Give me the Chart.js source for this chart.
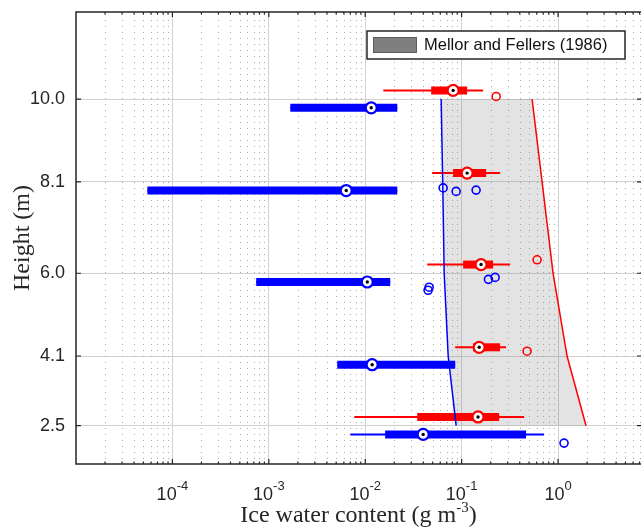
<!DOCTYPE html>
<html>
<head>
<meta charset="utf-8">
<script src="https://cdn.jsdelivr.net/npm/chart.js@4.4.1/dist/chart.umd.min.js"></script>
<style>
  html, body { margin: 0; padding: 0; background: #fff; overflow: hidden; }
  #chart { display: block; }
</style>
</head>
<body>
<canvas id="chart" width="641" height="527"></canvas>
<script>
// Heights (m) and their tick labels
var heights = [10.0, 8.1, 6.0, 4.1, 2.5];
var heightLabels = ['10.0', '8.1', '6.0', '4.1', '2.5'];
var xTickExponents = [-4, -3, -2, -1, 0];

// Red box plots (one per height): whisker low, q1, median, q3, whisker high (g m-3)
var redWhiskerLow  = [0.0154, 0.0494, 0.0439, 0.0857, 0.0077];
var redQ1          = [0.0483, 0.0816, 0.1037, 0.1315, 0.0346];
var redMedian      = [0.0816, 0.114,  0.159,  0.152,  0.148];
var redQ3          = [0.114,  0.1795, 0.212,  0.2505, 0.245];
var redWhiskerHigh = [0.167,  0.2506, 0.318,  0.289,  0.4446];

// Blue box plots
var blueWhiskerLow  = [0.00167, 0.000055, 0.00074, 0.00513, 0.0070];
var blueQ1          = [0.00167, 0.000055, 0.00074, 0.00513, 0.0161];
var blueMedian      = [0.01154, 0.00635,  0.0105,  0.0118,  0.0399];
var blueQ3          = [0.0215,  0.0215,   0.01816, 0.0857,  0.4659];
var blueWhiskerHigh = [0.0215,  0.0215,   0.01816, 0.0857,  0.716];

// Outliers
var redOutlierX = [0.228, 0.606, 0.477];
var redOutlierY = [10.06, 6.31, 4.21];
var blueOutlierX = [0.0643, 0.0877, 0.1413, 0.1896, 0.2223, 0.046, 0.0449, 1.154];
var blueOutlierY = [7.96, 7.88, 7.91, 5.86, 5.905, 5.68, 5.61, 2.10];

// Mellor and Fellers (1986) range, per height
var mellorLow  = [0.0613, 0.0636, 0.0659, 0.0725, 0.0877];
var mellorHigh = [0.538, 0.683, 0.888, 1.24, 1.95];

var RED = '#ff0000';
var BLUE = '#0000ff';
var AXIS = '#262626';
var BOX_OFFSET = 0.2;

function seg(x1, x2, y, color, width, order) {
    return {
        data: [{ x: x1, y: y }, { x: x2, y: y }],
        borderColor: color,
        borderWidth: width,
        borderCapStyle: 'butt',
        pointRadius: 0,
        fill: false,
        order: order
    };
}

var datasets = [];

// shaded range (polygon: low edge top->bottom, high edge bottom->top)
var shade = [];
heights.forEach(function(h, i) { shade.push({ x: mellorLow[i], y: h }); });
for (var i = heights.length - 1; i >= 0; i--) shade.push({ x: mellorHigh[i], y: heights[i] });
datasets.push({
    label: 'Mellor and Fellers (1986)',
    data: shade,
    backgroundColor: 'rgba(128,128,128,0.22)',
    borderWidth: 0,
    pointRadius: 0,
    fill: 'shape',
    order: 10
});

// range edges
datasets.push({
    data: heights.map(function(h, i) { return { x: mellorLow[i], y: h }; }),
    borderColor: BLUE, borderWidth: 1.5, pointRadius: 0, fill: false, order: 6
});
datasets.push({
    data: heights.map(function(h, i) { return { x: mellorHigh[i], y: h }; }),
    borderColor: RED, borderWidth: 1.5, pointRadius: 0, fill: false, order: 6
});

// box plots
heights.forEach(function(h, i) {
    var ry = h + BOX_OFFSET, by = h - BOX_OFFSET;
    datasets.push(seg(redWhiskerLow[i], redWhiskerHigh[i], ry, RED, 2, 8));
    datasets.push(seg(redQ1[i], redQ3[i], ry, RED, 8, 8));
    datasets.push(seg(blueWhiskerLow[i], blueWhiskerHigh[i], by, BLUE, 2, 8));
    datasets.push(seg(blueQ1[i], blueQ3[i], by, BLUE, 8, 8));
});

// outliers
datasets.push({
    data: redOutlierX.map(function(x, i) { return { x: x, y: redOutlierY[i] }; }),
    showLine: false, pointRadius: 4, borderWidth: 1.6,
    pointBorderColor: RED, pointBackgroundColor: 'rgba(0,0,0,0)', order: 5
});
datasets.push({
    data: blueOutlierX.map(function(x, i) { return { x: x, y: blueOutlierY[i] }; }),
    showLine: false, pointRadius: 4, borderWidth: 1.6,
    pointBorderColor: BLUE, pointBackgroundColor: 'rgba(0,0,0,0)', order: 5
});

// medians
var redMed = redMedian.map(function(x, i) { return { x: x, y: heights[i] + BOX_OFFSET }; });
var blueMed = blueMedian.map(function(x, i) { return { x: x, y: heights[i] - BOX_OFFSET }; });
datasets.push({ data: redMed, showLine: false, pointRadius: 5.5, borderWidth: 2.2,
    pointBorderColor: RED, pointBackgroundColor: '#fff', order: 3 });
datasets.push({ data: blueMed, showLine: false, pointRadius: 5.5, borderWidth: 2.2,
    pointBorderColor: BLUE, pointBackgroundColor: '#fff', order: 3 });
datasets.push({ data: redMed.concat(blueMed), showLine: false, pointRadius: 1.7, borderWidth: 0,
    pointBackgroundColor: '#000', order: 1 });

var X_MIN = 1e-5, X_MAX = 7.25;

function minorValues() {
    var vals = [];
    for (var e = -5; e <= 0; e++) {
        for (var m = 2; m <= 9; m++) {
            var v = m * Math.pow(10, e);
            if (v < X_MAX) vals.push(v);
        }
    }
    return vals;
}

var decorPlugin = {
    id: 'decor',
    beforeDatasetsDraw: function(chart) {
        var ctx = chart.ctx, a = chart.chartArea, xs = chart.scales.x;
        ctx.save();
        ctx.strokeStyle = '#a8a8a8';
        ctx.lineWidth = 1;
        ctx.setLineDash([1, 5]);
        minorValues().forEach(function(v) {
            var px = Math.round(xs.getPixelForValue(v)) + 0.5;
            ctx.beginPath();
            ctx.moveTo(px, a.top + 2);
            ctx.lineTo(px, a.bottom);
            ctx.stroke();
        });
        ctx.restore();
    },
    afterDraw: function(chart) {
        var ctx = chart.ctx, a = chart.chartArea, xs = chart.scales.x, ys = chart.scales.y;
        ctx.save();
        // frame
        ctx.strokeStyle = AXIS;
        ctx.lineWidth = 1.5;
        ctx.beginPath();
        ctx.moveTo(a.right, a.top);
        ctx.lineTo(a.left, a.top);
        ctx.lineTo(a.left, a.bottom);
        ctx.lineTo(a.right, a.bottom);
        ctx.stroke();
        // tick marks
        ctx.lineWidth = 1.2;
        ctx.beginPath();
        heights.forEach(function(h) {
            var py = ys.getPixelForValue(h);
            ctx.moveTo(a.left, py); ctx.lineTo(a.left + 5, py);
            ctx.moveTo(a.right, py); ctx.lineTo(a.right - 4, py);
        });
        xTickExponents.forEach(function(e) {
            var px = xs.getPixelForValue(Math.pow(10, e));
            ctx.moveTo(px, a.top); ctx.lineTo(px, a.top + 5);
            ctx.moveTo(px, a.bottom); ctx.lineTo(px, a.bottom - 5);
        });
        minorValues().forEach(function(v) {
            var px = xs.getPixelForValue(v);
            ctx.moveTo(px, a.top); ctx.lineTo(px, a.top + 2.5);
            ctx.moveTo(px, a.bottom); ctx.lineTo(px, a.bottom - 2.5);
        });
        ctx.stroke();

        // x tick labels 10^e
        ctx.fillStyle = AXIS;
        ctx.textBaseline = 'alphabetic';
        ctx.textAlign = 'left';
        xTickExponents.forEach(function(e) {
            var px = xs.getPixelForValue(Math.pow(10, e));
            ctx.font = '18px "Liberation Sans", Arial, sans-serif';
            var w1 = ctx.measureText('10').width;
            ctx.font = '13px "Liberation Sans", Arial, sans-serif';
            var w2 = ctx.measureText(String(e)).width;
            var x0 = px - (w1 + w2) / 2;
            ctx.font = '18px "Liberation Sans", Arial, sans-serif';
            ctx.fillText('10', x0, 500);
            ctx.font = '13px "Liberation Sans", Arial, sans-serif';
            ctx.fillText(String(e), x0 + w1, 490);
        });

        // x title with superscript
        var serif = '"Liberation Serif", "DejaVu Serif", serif';
        var t1 = 'Ice water content (g m', t2 = '-3', t3 = ')';
        ctx.font = '24px ' + serif;
        var w1 = ctx.measureText(t1).width, w3 = ctx.measureText(t3).width;
        ctx.font = '15px ' + serif;
        var w2 = ctx.measureText(t2).width;
        var cx = (a.left + a.right) / 2;
        var sx = cx - (w1 + w2 + w3) / 2;
        ctx.font = '24px ' + serif;
        ctx.fillText(t1, sx, 522);
        ctx.fillText(t3, sx + w1 + w2, 522);
        ctx.font = '15px ' + serif;
        ctx.fillText(t2, sx + w1, 512);

        // legend
        ctx.fillStyle = '#fff';
        ctx.fillRect(367, 31, 258, 28);
        ctx.strokeStyle = AXIS;
        ctx.lineWidth = 1.5;
        ctx.strokeRect(367, 31, 258, 28);
        ctx.fillStyle = '#7f7f7f';
        ctx.fillRect(373, 37, 44, 16);
        ctx.strokeStyle = '#5e5e5e';
        ctx.lineWidth = 1;
        ctx.strokeRect(373.5, 37.5, 43, 15);
        ctx.fillStyle = '#111';
        ctx.font = '16.5px "Liberation Sans", Arial, sans-serif';
        ctx.textBaseline = 'middle';
        ctx.fillText(datasets[0].label, 424, 45.5);
        ctx.restore();
    }
};

new Chart(document.getElementById('chart'), {
    type: 'line',
    data: { datasets: datasets },
    options: {
        responsive: false,
        animation: false,
        devicePixelRatio: 1,
        events: [],
        layout: { autoPadding: false, padding: { left: 0, top: 12, right: 0, bottom: 0 } },
        plugins: { legend: { display: false }, tooltip: { enabled: false } },
        elements: { line: { tension: 0 } },
        scales: {
            x: {
                type: 'logarithmic',
                min: X_MIN,
                max: X_MAX,
                afterFit: function(s) { s.height = 63; s.paddingLeft = 0; s.paddingRight = 0; },
                afterBuildTicks: function(s) {
                    s.ticks = xTickExponents.map(function(e) { return { value: Math.pow(10, e) }; });
                },
                ticks: { display: false },
                border: { display: false },
                grid: { color: '#d0d0d0', lineWidth: 1, drawTicks: false }
            },
            y: {
                type: 'linear',
                min: 1.62,
                max: 12,
                afterFit: function(s) { s.width = 76; s.paddingTop = 0; s.paddingBottom = 0; },
                afterBuildTicks: function(s) {
                    s.ticks = heights.map(function(h) { return { value: h }; });
                },
                ticks: {
                    padding: 11,
                    color: AXIS,
                    font: { family: '"Liberation Sans", Arial, sans-serif', size: 18 },
                    callback: function(v) {
                        var i = heights.indexOf(v);
                        return i >= 0 ? heightLabels[i] : '';
                    }
                },
                border: { display: false },
                grid: { color: '#d0d0d0', lineWidth: 1, drawTicks: false },
                title: {
                    display: true,
                    text: 'Height (m)',
                    color: AXIS,
                    padding: { top: 8, bottom: 0 },
                    font: { family: '"Liberation Serif", "DejaVu Serif", serif', size: 24 }
                }
            }
        }
    },
    plugins: [decorPlugin]
});
</script>
</body>
</html>
